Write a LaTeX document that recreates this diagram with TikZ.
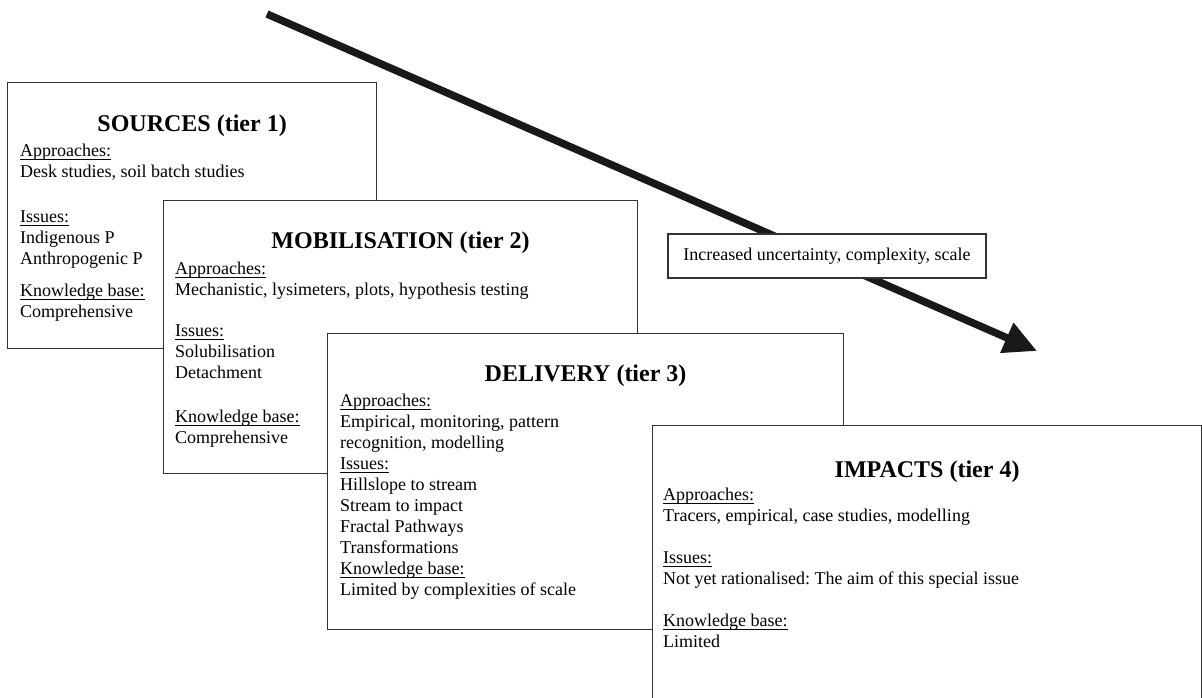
\documentclass[tikz,border=0pt]{standalone}
\usepackage{fontspec}
\setmainfont{Liberation Serif}
\usetikzlibrary{positioning, arrows.meta, calc}
\frenchspacing
\newcommand{\hd}[1]{\setbox0\hbox{#1}\rlap{\rule[-3pt]{\wd0}{0.9pt}}\box0}
\newcommand{\boxtitle}[1]{{\bfseries #1}}

\begin{document}
\begin{tikzpicture}[
    x=1pt, y=-1pt,
    tier/.style={
        rectangle,
        draw=black!80,
        line width=1.2pt,
        fill=white,
        anchor=north west,
        inner sep=0pt
    },
    head/.style={
        anchor=base,
        inner sep=0pt,
        font=\fontsize{24}{28}\selectfont
    },
    body/.style={
        anchor=north west,
        align=left,
        inner sep=0pt,
        font=\fontsize{18}{21}\selectfont
    },
    tag/.style={
        rectangle,
        draw=black!80,
        line width=1.2pt,
        fill=white,
        minimum width=318pt,
        minimum height=44pt,
        inner sep=0pt,
        font=\fontsize{18}{21}\selectfont
    },
    trend/.style={
        line width=7.5pt,
        draw=black!90,
        -{Triangle[length=33pt, width=31pt]}
    }
]
    \useasboundingbox (0,0) rectangle (1202,697);
    \clip (0,0) rectangle (1202,697);

    % --- Trend arrow ---
    \coordinate (trendstart) at (267,14);
    \coordinate (trendend)   at (1037,351);
    \draw[trend] (trendstart) -- (trendend);

    % --- 1) Sources ---
    \node[tier, minimum width=369pt, minimum height=266pt] (src) at (7,82) {};
    \node[head] (srchead) at ($(src.north)+(0,49)$) {\boxtitle{SOURCES (tier 1)}};
    \node[body] (srcbody) at ($(src.north west)+(13,62)$) {%
        \hd{Approaches:}\\
        Desk studies, soil batch studies\\[24pt]
        \hd{Issues:}\\
        Indigenous P\\
        Anthropogenic P\\[11pt]
        \hd{Knowledge base:}\\
        Comprehensive
    };

    % --- 2) Mobilisation ---
    \node[tier, minimum width=474pt, minimum height=273pt] (mob)
        at ($(src.north west)+(156,118)$) {};
    \node[head] (mobhead) at ($(mob.north)+(0,48)$) {\boxtitle{MOBILISATION (tier 2)}};
    \node[body] (mobbody) at ($(mob.north west)+(12,62)$) {%
        \hd{Approaches:}\\
        Mechanistic, lysimeters, plots, hypothesis testing\\[20pt]
        \hd{Issues:}\\
        Solubilisation\\
        Detachment\\[23pt]
        \hd{Knowledge base:}\\
        Comprehensive
    };

    % --- 3) Delivery ---
    \node[tier, minimum width=516pt, minimum height=296pt] (del)
        at ($(mob.north west)+(164,133)$) {};
    \node[head] (delhead) at ($(del.north)+(0,48)$) {\boxtitle{DELIVERY (tier 3)}};
    \node[body] (delbody) at ($(del.north west)+(13,61)$) {%
        \hd{Approaches:}\\
        Empirical, monitoring, pattern\\
        recognition, modelling\\
        \hd{Issues:}\\
        Hillslope to stream\\
        Stream to impact\\
        Fractal Pathways\\
        Transformations\\
        \hd{Knowledge base:}\\
        Limited by complexities of scale
    };

    % --- 4) Impacts (runs off the bottom) ---
    \node[tier, minimum width=549pt, minimum height=290pt] (imp)
        at ($(del.north west)+(325,92)$) {};
    \node[head] (imphead) at ($(imp.north)+(0,52)$) {\boxtitle{IMPACTS (tier 4)}};
    \node[body] (impbody) at ($(imp.north west)+(11,63)$) {%
        \hd{Approaches:}\\
        Tracers, empirical, case studies, modelling\\[21pt]
        \hd{Issues:}\\
        Not yet rationalised: The aim of this special issue\\[21pt]
        \hd{Knowledge base:}\\
        Limited
    };

    % --- Label on the arrow ---
    \node[tag] (trendlabel) at (827,256) {Increased uncertainty, complexity, scale};

\end{tikzpicture}
\end{document}
